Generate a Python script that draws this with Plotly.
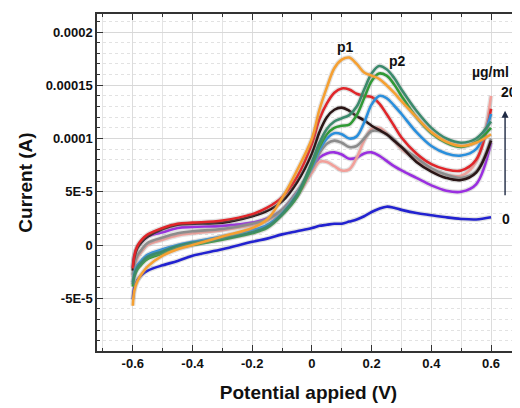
import numpy as np
import plotly.graph_objects as go

# Potential (V)
potential = [-0.6, -0.595, -0.585, -0.57, -0.55, -0.5, -0.45, -0.4, -0.3, -0.2, -0.15, -0.1, -0.05,
             0, 0.025, 0.05, 0.075, 0.1, 0.125, 0.15, 0.175, 0.2, 0.225, 0.25, 0.275, 0.3,
             0.35, 0.4, 0.45, 0.5, 0.55, 0.6]

# Currents in units of 1e-5 A
cur_blue = [-5.1, -4.0, -3.3, -2.8, -2.4, -1.9, -1.5, -1.0, -0.4, 0.3, 0.6, 1.0, 1.3,
            1.6, 1.8, 1.9, 2.0, 2.0, 2.2, 2.4, 2.7, 3.1, 3.4, 3.6, 3.5, 3.3,
            3.0, 2.8, 2.6, 2.45, 2.4, 2.6]
cur_purple = [-2.1, -1.0, -0.2, 0.3, 0.8, 1.2, 1.6, 1.7, 1.8, 2.1, 2.5, 3.3, 5.0,
              7.0, 8.2, 8.6, 8.7, 8.5, 8.1, 8.2, 8.6, 8.7, 8.4, 7.9, 7.4, 7.0,
              6.3, 5.6, 5.1, 5.0, 5.7, 9.6]
cur_pink = [-3.0, -2.0, -1.2, -0.6, 0.0, 0.5, 0.9, 1.1, 1.4, 1.9, 2.3, 3.2, 4.6,
            6.8, 7.8, 7.8, 7.4, 7.0, 7.1, 8.2, 9.8, 10.9, 11.0, 10.5, 9.8, 9.0,
            8.0, 7.1, 6.6, 6.5, 7.8, 14.0]
cur_gray = [-2.8, -1.8, -1.0, -0.4, 0.2, 0.7, 1.1, 1.3, 1.5, 2.0, 2.4, 3.3, 5.0,
            7.2, 8.6, 9.5, 9.8, 9.6, 9.2, 9.3, 10.0, 10.7, 10.7, 10.4, 9.9, 9.2,
            8.2, 7.2, 6.6, 6.3, 6.9, 10.0]
cur_black = [-2.4, -1.2, -0.3, 0.3, 0.8, 1.5, 1.9, 2.0, 2.1, 2.7, 3.2, 4.1, 5.9,
             8.6, 10.6, 12.0, 12.7, 12.9, 12.6, 12.1, 11.7, 11.2, 10.8, 10.4, 9.8, 9.2,
             7.8, 6.9, 6.3, 6.1, 6.8, 9.8]
cur_red = [-2.2, -1.0, -0.1, 0.5, 1.0, 1.6, 2.0, 2.1, 2.3, 2.9, 3.5, 4.5, 6.4,
           9.5, 11.8, 13.3, 14.3, 14.7, 14.6, 14.2, 14.0, 13.9, 13.3, 12.3, 11.2, 10.1,
           8.6, 7.6, 7.1, 7.0, 8.0, 12.8]
cur_sky = [-3.5, -2.6, -1.9, -1.4, -0.9, -0.4, 0.0, 0.3, 0.8, 1.4, 1.9, 3.0, 4.8,
           7.3, 8.9, 10.0, 10.5, 10.4, 10.0, 10.2, 11.5, 13.2, 14.0, 13.8, 13.1, 12.3,
           10.6, 9.3, 8.6, 8.4, 9.0, 12.3]
cur_green = [-3.9, -3.0, -2.3, -1.8, -1.3, -0.8, -0.3, 0.0, 0.5, 1.1, 1.6, 2.8, 4.5,
             7.5, 9.2, 10.4, 11.0, 11.2, 11.3, 12.2, 13.8, 15.4, 16.1, 15.9, 15.1, 14.0,
             12.0, 10.5, 9.6, 9.2, 9.7, 11.0]
cur_teal = [-3.7, -2.8, -2.1, -1.6, -1.1, -0.6, -0.1, 0.2, 0.6, 1.2, 1.7, 2.9, 4.7,
            7.8, 9.6, 10.9, 11.6, 11.9, 12.2, 13.0, 14.6, 16.1, 16.8, 16.5, 15.7, 14.6,
            12.6, 11.0, 10.0, 9.6, 10.0, 11.6]
cur_orange = [-5.7, -4.3, -3.4, -2.7, -2.0, -1.0, -0.4, 0.0, 0.8, 1.6, 2.4, 4.4, 7.0,
              10.0, 12.7, 14.8, 16.6, 17.4, 17.6, 17.0, 16.2, 15.9, 15.6, 15.0, 14.3, 13.5,
              12.0, 10.6, 9.7, 9.3, 9.6, 10.4]

y_tickvals = [-5e-5, 0, 5e-5, 1e-4, 1.5e-4, 2e-4]
y_ticktext = ["-5E-5", "0", "5E-5", "0.0001", "0.00015", "0.0002"]
x_tickvals = [-0.6, -0.4, -0.2, 0, 0.2, 0.4, 0.6]
x_ticktext = ["-0.6", "-0.4", "-0.2", "0", "0.2", "0.4", "0.6"]

series = [
    ("0 µg/ml", cur_blue, "#2222d0"),
    ("purple", cur_purple, "#9a2fe0"),
    ("pink", cur_pink, "#f2a09a"),
    ("gray", cur_gray, "#8c8c8c"),
    ("black", cur_black, "#2a1616"),
    ("red", cur_red, "#e0262a"),
    ("sky", cur_sky, "#2a8fdc"),
    ("green", cur_green, "#2f9a35"),
    ("teal", cur_teal, "#3b8a6c"),
    ("orange", cur_orange, "#f5a032"),
]

unit = 1e-5
fig = go.Figure()
for name, vals, col in series:
    yv = np.array(vals) * unit
    fig.add_trace(go.Scatter(x=potential, y=yv, mode="lines", name=name,
                             line=dict(color="rgba(150,150,150,0.28)", width=5, shape="spline", smoothing=1.0),
                             hoverinfo="skip", showlegend=False))
    fig.add_trace(go.Scatter(x=potential, y=yv, mode="lines", name=name,
                             line=dict(color=col, width=2.6, shape="spline", smoothing=1.0),
                             showlegend=False))

FAM = "Liberation Sans, Arial, sans-serif"
bold = dict(family=FAM, size=13, color="#111", weight="bold")

# The page body has an 8px margin, so the figure is sized and offset to fill the 520x408 window
fig.update_layout(
    width=512, height=400,
    margin=dict(l=89, r=0, t=6, b=57),
    paper_bgcolor="white", plot_bgcolor="white",
    showlegend=False,
    xaxis=dict(range=[-0.72, 0.697], tickvals=x_tickvals, ticktext=x_ticktext,
               automargin=False,
               ticks="inside", ticklen=6, tickcolor="#333", tickwidth=1,
               showline=True, linecolor="#333", linewidth=1.5, mirror="allticks",
               showgrid=True, gridcolor="#dcdcdc", gridwidth=1.2, zeroline=False,
               tickfont=bold,
               minor=dict(dtick=0.1, tick0=0, ticks="inside", ticklen=3, tickcolor="#333",
                          showgrid=True, gridcolor="#e4e4e4", griddash="solid"),
               title=dict(text="Potential appied (V)", font=dict(family=FAM, size=19, color="#111", weight="bold"),
                          standoff=15)),
    yaxis=dict(range=[-9.95e-5, 2.169e-4], tickvals=y_tickvals, ticktext=y_ticktext,
               automargin=False,
               ticks="inside", ticklen=6, tickcolor="#333", tickwidth=1,
               showline=True, linecolor="#333", linewidth=1.5, mirror="allticks",
               showgrid=True, gridcolor="#d8d8d8", gridwidth=1.2, zeroline=False,
               tickfont=bold,
               minor=dict(dtick=1e-5, tick0=0, ticks="inside", ticklen=3, tickcolor="#333",
                          showgrid=True, gridcolor="#e2e2e2", griddash="dot"),
               title=dict(text="Current (A)", font=dict(family=FAM, size=19, color="#111", weight="bold"),
                          standoff=8)),
)

afont = dict(family=FAM, size=14, color="#111", weight="bold")
fig.add_annotation(x=0.111, y=18.6e-5, text="p1", showarrow=False, font=afont)
fig.add_annotation(x=0.288, y=17.3e-5, text="p2", showarrow=False, font=afont)
fig.add_annotation(x=0.597, y=16.2e-5, text="µg/ml", showarrow=False,
                   font=dict(family=FAM, size=14, color="#111", weight="bold"))
fig.add_annotation(x=0.660, y=14.4e-5, text="20", showarrow=False, font=afont)
fig.add_annotation(x=0.650, y=2.4e-5, text="0", showarrow=False, font=afont)
fig.add_annotation(x=0.647, y=12.6e-5, ax=0, ay=86, axref="pixel", ayref="pixel", text="",
                   showarrow=True, arrowhead=2, arrowsize=1, arrowwidth=1.4, arrowcolor="#1f2a44")

fig.write_html("out.html")
